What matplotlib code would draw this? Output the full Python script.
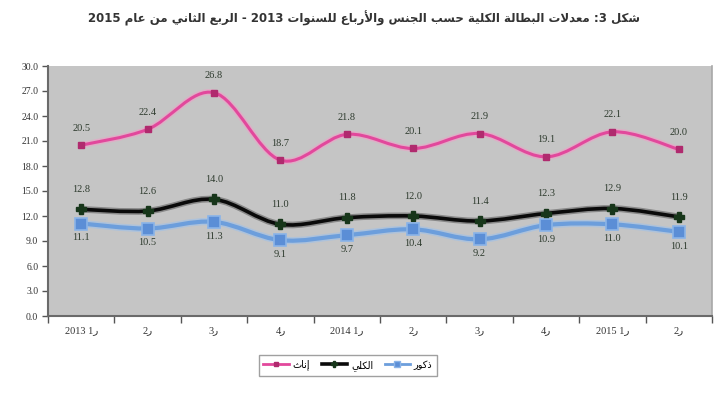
import matplotlib
matplotlib.use("Agg")
import matplotlib.pyplot as plt
from matplotlib.path import Path
from matplotlib.patches import PathPatch
from matplotlib.lines import Line2D
import numpy as np

# ---------------- data ----------------
quarters = ["2013 1ر", "2ر", "3ر", "4ر", "2014 1ر", "2ر", "3ر", "4ر", "2015 1ر", "2ر"]
females = [20.5, 22.4, 26.8, 18.7, 21.8, 20.1, 21.9, 19.1, 22.1, 20.0]
total = [12.8, 12.6, 14.0, 11.0, 11.8, 12.0, 11.4, 12.3, 12.9, 11.9]
males = [11.1, 10.5, 11.3, 9.1, 9.7, 10.4, 9.2, 10.9, 11.0, 10.1]
yticks = [0, 3, 6, 9, 12, 15, 18, 21, 24, 27, 30]
title_text = "شكل :3 معدلات البطالة الكلية حسب الجنس والأرباع للسنوات 2013 - الربع الثاني من عام 2015"
lbl_f, lbl_t, lbl_m = "إناث", "الكلي", "ذكور"

# ------------- simple Arabic shaping (presentation forms) -------------
FORMS = {
    'ا': (0xFE8D, 0xFE8E, None, None), 'أ': (0xFE83, 0xFE84, None, None),
    'إ': (0xFE87, 0xFE88, None, None), 'ب': (0xFE8F, 0xFE90, 0xFE91, 0xFE92),
    'ة': (0xFE93, 0xFE94, None, None), 'ت': (0xFE95, 0xFE96, 0xFE97, 0xFE98),
    'ث': (0xFE99, 0xFE9A, 0xFE9B, 0xFE9C), 'ج': (0xFE9D, 0xFE9E, 0xFE9F, 0xFEA0),
    'ح': (0xFEA1, 0xFEA2, 0xFEA3, 0xFEA4), 'د': (0xFEA9, 0xFEAA, None, None),
    'ذ': (0xFEAB, 0xFEAC, None, None), 'ر': (0xFEAD, 0xFEAE, None, None),
    'ز': (0xFEAF, 0xFEB0, None, None), 'س': (0xFEB1, 0xFEB2, 0xFEB3, 0xFEB4),
    'ش': (0xFEB5, 0xFEB6, 0xFEB7, 0xFEB8), 'ط': (0xFEC1, 0xFEC2, 0xFEC3, 0xFEC4),
    'ع': (0xFEC9, 0xFECA, 0xFECB, 0xFECC), 'ك': (0xFED9, 0xFEDA, 0xFEDB, 0xFEDC),
    'ل': (0xFEDD, 0xFEDE, 0xFEDF, 0xFEE0), 'م': (0xFEE1, 0xFEE2, 0xFEE3, 0xFEE4),
    'ن': (0xFEE5, 0xFEE6, 0xFEE7, 0xFEE8), 'ه': (0xFEE9, 0xFEEA, 0xFEEB, 0xFEEC),
    'و': (0xFEED, 0xFEEE, None, None), 'ي': (0xFEF1, 0xFEF2, 0xFEF3, 0xFEF4),
    'ى': (0xFEEF, 0xFEF0, None, None),
}
LAMALEF = {'ا': (0xFEFB, 0xFEFC), 'أ': (0xFEF7, 0xFEF8), 'إ': (0xFEF9, 0xFEFA), 'آ': (0xFEF5, 0xFEF6)}


def shape_word(w):
    toks, i = [], 0
    while i < len(w):
        if w[i] == 'ل' and i + 1 < len(w) and w[i + 1] in LAMALEF:
            toks.append(('LA', w[i + 1]))
            i += 2
        else:
            toks.append(w[i])
            i += 1

    def jl(t):
        if isinstance(t, tuple):
            return False
        f = FORMS.get(t)
        return f is not None and f[2] is not None

    def jr(t):
        return isinstance(t, tuple) or t in FORMS

    res = []
    for k, t in enumerate(toks):
        prev = toks[k - 1] if k > 0 else None
        nxt = toks[k + 1] if k + 1 < len(toks) else None
        cp = prev is not None and jl(prev) and jr(t)
        cn = nxt is not None and jl(t) and jr(nxt)
        if isinstance(t, tuple):
            iso, fin = LAMALEF[t[1]]
            res.append(chr(fin if cp else iso))
        elif t in FORMS:
            iso, fin, ini, med = FORMS[t]
            if cp and cn:
                res.append(chr(med))
            elif cp:
                res.append(chr(fin))
            elif cn:
                res.append(chr(ini))
            else:
                res.append(chr(iso))
        else:
            res.append(t)
    return ''.join(reversed(res))


def rtl(text):
    out = []
    for tok in text.split(' '):
        if any('\u0600' <= c <= '\u06FF' for c in tok):
            out.append(shape_word(tok))
        else:
            out.append(tok)
    return ' '.join(reversed(out))


# ------------- smooth path (Catmull-Rom as cubic Bezier) -------------
def smooth_path(xs, ys):
    P = np.column_stack([xs, ys]).astype(float)
    n = len(P)
    verts = [tuple(P[0])]
    codes = [Path.MOVETO]
    for i in range(n - 1):
        p0 = P[i - 1] if i > 0 else P[i]
        p1, p2 = P[i], P[i + 1]
        p3 = P[i + 2] if i + 2 < n else P[i + 1]
        c1 = p1 + (p2 - p0) / 6.0
        c2 = p2 - (p3 - p1) / 6.0
        verts += [tuple(c1), tuple(c2), tuple(p2)]
        codes += [Path.CURVE4] * 3
    return Path(verts, codes)


# ---------------- figure ----------------
fig = plt.figure(figsize=(7.28, 4.0), dpi=100)
fig.patch.set_facecolor('white')
ax = fig.add_axes([0.066, 0.21, 0.912, 0.625])
ax.set_facecolor('#C5C5C5')

x = np.arange(len(quarters))
serif = ['Liberation Serif', 'DejaVu Sans']

pink = '#E2489C'
blue = '#6C9EDC'

# halos + lines
for ys, col, lw, halo in [(females, pink, 2.2, '#F0A0C8'),
                          (males, blue, 3.0, '#9DC0EA'),
                          (total, '#0A0A0A', 2.6, '#606060')]:
    ax.add_patch(PathPatch(smooth_path(x, ys), fill=False, edgecolor=halo,
                           lw=lw + 2.2, alpha=0.6, zorder=2))
    ax.add_patch(PathPatch(smooth_path(x, ys), fill=False, edgecolor=col,
                           lw=lw, zorder=3, capstyle='round'))

ax.plot(x, females, ls='none', marker='s', ms=4.5, mfc='#B02A6E', mec='#B02A6E', zorder=4)
ax.plot(x, total, ls='none', marker='P', ms=7, mfc='#17361A', mec='#17361A', zorder=4)
ax.plot(x, males, ls='none', marker='s', ms=8, mfc='#5B8ED6', mec='#8AB4E8', mew=1.2, zorder=4)

# data labels
for xi, v in zip(x, females):
    ax.annotate(f"{v:.1f}", (xi, v), xytext=(0, 9), textcoords='offset points',
                ha='center', va='bottom', fontsize=7.5, family=serif, color='#2E3B2E')
for xi, v in zip(x, total):
    ax.annotate(f"{v:.1f}", (xi, v), xytext=(0, 11), textcoords='offset points',
                ha='center', va='bottom', fontsize=7.5, family=serif, color='#2E3B2E')
for xi, v in zip(x, males):
    ax.annotate(f"{v:.1f}", (xi, v), xytext=(0, -7), textcoords='offset points',
                ha='center', va='top', fontsize=7.5, family=serif, color='#2E3B2E')

# axes
ax.set_xlim(-0.5, len(quarters) - 0.5)
ax.set_ylim(0, 30)
ax.set_yticks(yticks)
ax.set_yticklabels([f"{v:.1f}" for v in yticks], fontsize=7, family=serif, color='#333333')
ax.set_xticks(x)
ax.set_xticklabels(quarters, fontsize=7.5, family=serif, color='#333333')
ax.set_xticks(np.arange(-0.5, len(quarters), 1.0), minor=True)
ax.tick_params(axis='x', which='major', length=0, pad=7)
ax.tick_params(axis='x', which='minor', length=5, width=1, color='#555555', direction='out')
ax.tick_params(axis='y', length=4, width=1, color='#555555', direction='out', pad=3)

for s in ['left', 'bottom']:
    ax.spines[s].set_color('#6A6A6A')
    ax.spines[s].set_linewidth(1.5)
ax.spines['top'].set_visible(False)
ax.spines['right'].set_color('#A8A8A8')
ax.spines['right'].set_linewidth(1.2)

# title
fig.text(0.5, 0.955, rtl(title_text), ha='center', va='center', fontsize=8.5,
         fontweight='bold', family=['DejaVu Sans'], color='#333333')

# legend
handles = [
    Line2D([], [], color=pink, lw=2, marker='s', ms=3.5, mfc='#B02A6E', mec='#B02A6E'),
    Line2D([], [], color='#0A0A0A', lw=2.6, marker='P', ms=5, mfc='#17361A', mec='#17361A'),
    Line2D([], [], color=blue, lw=2, marker='s', ms=5, mfc='#5B8ED6', mec='#8AB4E8'),
]
leg = fig.legend(handles, [rtl(lbl_f), rtl(lbl_t), rtl(lbl_m)], loc='center',
                 bbox_to_anchor=(0.478, 0.087), ncol=3, frameon=True, fancybox=False,
                 prop={'family': 'DejaVu Sans', 'size': 7}, handlelength=2.6,
                 columnspacing=1.2, handletextpad=0.4, borderpad=0.5)
leg.get_frame().set_edgecolor('#888888')
leg.get_frame().set_linewidth(1.0)

fig.savefig('out.png', dpi=100, facecolor='white')
